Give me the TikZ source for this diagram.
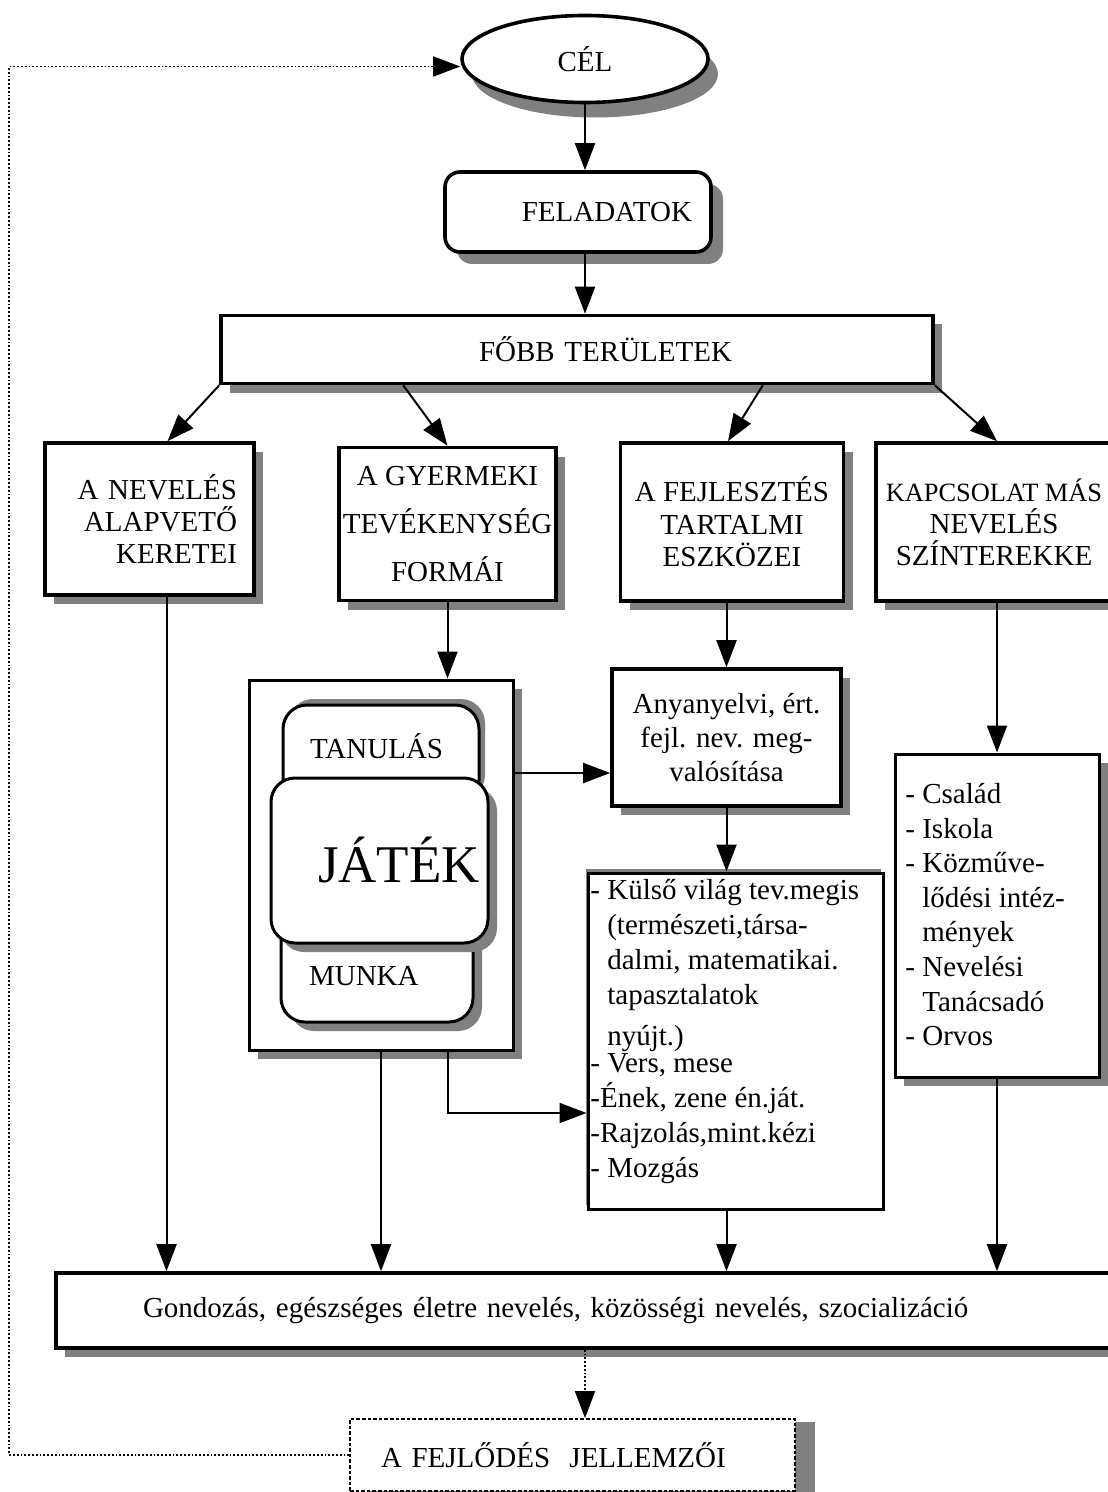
\documentclass[tikz,border=0pt]{standalone}
\usepackage{fontspec}
\setmainfont{Liberation Serif}
\usetikzlibrary{shapes.geometric}
\usetikzlibrary{arrows.meta}
\usetikzlibrary{shadows}

\tikzset{
    box/.style={rectangle, draw, line width=1.8pt, fill=white, inner sep=1pt},
    rbox/.style={box, rounded corners=12pt},
    boxshadow/.style={drop shadow={shadow xshift=#1, shadow yshift=-#1, opacity=1, fill=black!50}},
    boxshadow/.default=4.5pt,
    conn/.style={line width=1pt, -{Triangle[length=13.5pt, width=10pt]}},
    fback/.style={densely dotted, line width=0.9pt, -{Triangle[length=13.5pt, width=10pt]}}
}

\begin{document}
\begin{tikzpicture}[x=0.5pt, y=-0.5pt, every node/.style={font=\fontsize{14.5}{17.5}\selectfont}]
        \useasboundingbox (0,0) rectangle (1107,1492);

        \node[ellipse, draw, line width=1.8pt, fill=white, minimum width=123pt, minimum height=43.5pt, drop shadow={shadow xshift=5pt, shadow yshift=-7.5pt, opacity=1, fill=black!50}] (cel) at (585,59) {CÉL};
        \node[rbox, rounded corners=7.5pt, boxshadow=6pt, minimum width=133pt, minimum height=40pt, text width=114pt, align=right] (feladatok) at (578,212) {FELADATOK};
        \node[box, boxshadow, minimum width=356pt, minimum height=34pt, text width=155pt, align=right] (fobb) at (577,349.5) {FŐBB TERÜLETEK};

        \node[box, boxshadow, minimum width=104.5pt, minimum height=76pt, text width=87.5pt, align=right, font=\fontsize{14.5}{16}\selectfont] (nev) at (149.5,519) {A NEVELÉS\\ALAPVETŐ\\KERETEI};
        \node[box, boxshadow, minimum width=108.5pt, minimum height=76.5pt, align=center, font=\fontsize{14.5}{24}\selectfont] (gyer) at (447.5,524) {A GYERMEKI\\TEVÉKENYSÉG\\FORMÁI};
        \node[box, boxshadow, minimum width=111.5pt, minimum height=79pt, align=center, font=\fontsize{14.5}{16.25}\selectfont] (fejl) at (732,522) {A FEJLESZTÉS\\TARTALMI\\ESZKÖZEI};
        \node[box, boxshadow, minimum width=118pt, minimum height=79pt, align=center, font=\fontsize{14.5}{16}\selectfont] (kap) at (994,522) {{\fontsize{13.2}{16}\selectfont KAPCSOLAT MÁS}\\NEVELÉS\\SZÍNTEREKKE};

        \node[box, line width=1.5pt, boxshadow, minimum width=132pt, minimum height=185pt] (big) at (381,865) {};
        \node[rbox, line width=1.5pt, minimum width=98pt, minimum height=50pt, drop shadow={shadow xshift=3pt, shadow yshift=3pt, opacity=1, fill=black!50}] (tan) at (381,755) {};
        \node[anchor=base west] (tantext) at (303,758) {TANULÁS};
        \node[rbox, line width=1.5pt, boxshadow, minimum width=96pt, minimum height=61pt] (mun) at (377,961) {};
        \node[anchor=base west] (muntext) at (302,985) {MUNKA};
        \node[rbox, line width=1.5pt, boxshadow, minimum width=108.5pt, minimum height=82.5pt, text width=100.5pt, align=right, font=\fontsize{26.5}{30}\selectfont] (jat) at (379.5,860.5) {JÁTÉK};

        \node[box, boxshadow, minimum width=114.5pt, minimum height=68.5pt, align=center, font=\fontsize{14.5}{17}\selectfont] (any) at (726.5,737.5) {Anyanyelvi, ért.\\fejl. nev. meg-\\valósítása};
        \node[box, line width=1.5pt, minimum width=147.5pt, minimum height=168pt, drop shadow={shadow xshift=-1pt, shadow yshift=2pt, opacity=1, fill=black!50}] (kul) at (735.5,1041) {};
        \node[anchor=north west, align=left, inner sep=0] (kultext) at (590,879) {- Külső világ tev.megis\\\hphantom{- }(természeti,társa-\\\hphantom{- }dalmi, matematikai.\\\hphantom{- }tapasztalatok\\[3pt]\hphantom{- }nyújt.)\\[-4pt]- Vers, mese\\-Ének, zene én.ját.\\-Rajzolás,mint.kézi\\- Mozgás};
        \node[box, line width=1.5pt, boxshadow, minimum width=102pt, minimum height=161.5pt] (csal) at (997,915.5) {};
        \node[anchor=north west, align=left, inner sep=0, font=\fontsize{14.5}{17.3}\selectfont] (csaltext) at (905,783) {- Család\\- Iskola\\- Közműve-\\\hphantom{- }lődési intéz-\\\hphantom{- }mények\\- Nevelési\\\hphantom{- }Tanácsadó\\- Orvos};

        \node[box, boxshadow, minimum width=534.5pt, minimum height=37.5pt, text width=447.5pt, align=left] (gond) at (590.5,1310.5) {Gondozás, egészséges életre nevelés, közösségi nevelés, szocializáció};
        \node[box, densely dotted, line width=0.9pt, minimum width=222.5pt, minimum height=36pt, text width=191.5pt, align=left, drop shadow={shadow xshift=10pt, shadow yshift=-1.5pt, opacity=1, fill=black!50}] (fejlod) at (572.5,1455) {A FEJLŐDÉS\ \ JELLEMZŐI};

        \coordinate (celin) at ([yshift=-3.75pt]cel.west);
        \coordinate (anyin) at ([yshift=-17.75pt]any.west);
        \coordinate (kulin) at ([yshift=-36pt]kul.west);

        \draw[conn] (cel.south) -- (cel.south |- feladatok.north);
        \draw[conn] (feladatok.south -| cel.south) -- (fobb.north -| cel.south);
        \draw[conn] (fobb.south west) -- ([xshift=9pt]nev.north);
        \draw[conn] ([xshift=92pt]fobb.south west) -- (gyer.north);
        \draw[conn] ([xshift=-86pt]fobb.south east) -- ([xshift=-2pt]fejl.north);
        \draw[conn] (fobb.south east) -- (csal.north |- kap.north);
        \draw[conn] ([xshift=8.5pt]nev.south) -- ([xshift=8.5pt]nev.south |- gond.north);
        \draw[conn] (gyer.south) -- (gyer.south |- big.north);
        \draw[conn] (any.north |- fejl.south) -- (any.north);
        \draw[conn] (csal.north |- kap.south) -- (csal.north);
        \draw[conn] (big.east |- anyin) -- (anyin);
        \draw[conn] (any.south) -- (any.south |- kul.north);
        \draw[conn] (big.south) -- (big.south |- gond.north);
        \draw[conn] (big.south -| gyer.south) |- (kulin);
        \draw[conn] (kul.south -| any.south) -- (any.south |- gond.north);
        \draw[conn] (csal.south) -- (csal.south |- gond.north);
        \draw[fback] (cel.south |- gond.south) -- (cel.south |- fejlod.north);
        \draw[fback] (fejlod.west) -- ++(-340,0) |- (celin);
\end{tikzpicture}
\end{document}
